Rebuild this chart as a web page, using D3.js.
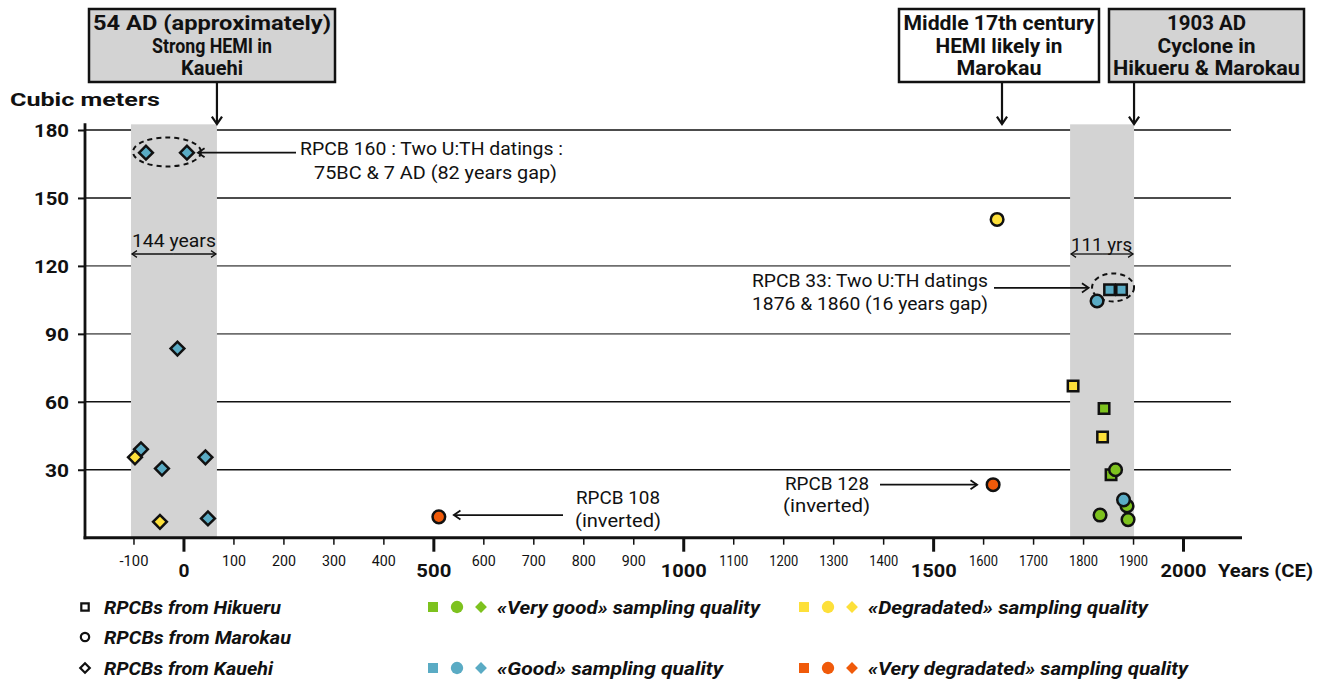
<!DOCTYPE html>
<html><head><meta charset="utf-8">
<script src="https://cdn.jsdelivr.net/npm/d3@7"></script>
<style>
html,body{margin:0;padding:0;background:#fff;}
svg text{font-family:Roboto,"Noto Sans","DejaVu Sans",sans-serif;fill:#111;}
</style></head>
<body><svg id="c" width="1322" height="682"></svg>
<script>
// ---------- DATA ----------
const years   = [-75, 7, -12, -85, -97, -43, 44, -47, 49,
                 511, 1628, 1620, 1828, 1865, 1881, 1888, 1834, 1890,
                 1853, 1877, 1780, 1842, 1839, 1856];
const volumes = [170, 170, 83.5, 39, 35.5, 30.5, 35.5, 7, 8.5,
                 9.2, 140.5, 23.4, 104.5, 30, 16.7, 14, 10, 8,
                 109.5, 109.5, 67, 57, 44.5, 27.8];
const sites   = ["Kauehi","Kauehi","Kauehi","Kauehi","Kauehi","Kauehi","Kauehi","Kauehi","Kauehi",
                 "Marokau","Marokau","Marokau","Marokau","Marokau","Marokau","Marokau","Marokau","Marokau",
                 "Hikueru","Hikueru","Hikueru","Hikueru","Hikueru","Hikueru"];
const quality = ["good","good","good","good","degraded","good","good","degraded","good",
                 "verydegraded","degraded","verydegraded","good","verygood","good","verygood","verygood","verygood",
                 "good","good","degraded","verygood","degraded","verygood"];
const drawOrder = [0,1,2,3,4,5,6,7,8,9,10,11,18,19,20,21,22,23,12,13,15,14,16,17];

const yTicks = [30, 60, 90, 120, 150, 180];
const xMinorTicks = [-100,100,200,300,400,600,700,800,900,1100,1200,1300,1400,1600,1700,1800,1900];
const xMajorTicks = [0, 500, 1000, 1500, 2000];
const bands = [[-105, 67], [1774, 1902]];

const qualityNames = ["verygood","degraded","good","verydegraded"];
const qualityColors = ["#7dc21e","#fde03a","#5aabc4","#f05a0a"];
const qualityLabels = ["«Very good» sampling quality","«Degradated» sampling quality","«Good» sampling quality","«Very degradated» sampling quality"];
const siteNames = ["Hikueru","Marokau","Kauehi"];
const siteLabels = ["RPCBs from Hikueru","RPCBs from Marokau","RPCBs from Kauehi"];

// ---------- helpers ----------
function fit(sel, w) { return sel.attr("textLength", w).attr("lengthAdjust", "spacingAndGlyphs"); }

// ---------- SCALES ----------
const svg = d3.select("#c");
const x = d3.scaleLinear().domain([-197, 2118]).range([85, 1242]);
const y = d3.scaleLinear().domain([0, 180]).range([537.7, 130]);
const color = d3.scaleOrdinal().domain(qualityNames).range(qualityColors);
const shapeOf = {Hikueru: d3.symbolSquare, Marokau: d3.symbolCircle, Kauehi: d3.symbolSquare};

// gridlines
svg.selectAll("line.grid").data(yTicks).join("line")
  .attr("x1", x(-197)).attr("x2", x(2096))
  .attr("y1", d => y(d)).attr("y2", d => y(d))
  .attr("stroke", d => (d===90||d===120) ? "#6f6f6f" : "#111").attr("stroke-width", 1.6);
// bands
svg.selectAll("rect.band").data(bands).join("rect")
  .attr("x", d => x(d[0])).attr("width", d => x(d[1]) - x(d[0]))
  .attr("y", y(182.5)).attr("height", y(0) - y(182.5))
  .attr("fill", "#d3d3d3");

// y axis
const yAxis = d3.axisLeft(y).tickValues(yTicks).tickSize(7).tickPadding(9);
const gy = svg.append("g").attr("transform", `translate(${x(-197)},0)`).call(yAxis);
gy.select(".domain").remove();
gy.selectAll(".tick line").attr("stroke", "#111").attr("stroke-width", 2);
gy.selectAll(".tick text").attr("font-size", 19).attr("font-weight", "bold").attr("font-family", null)
  .attr("dy", "0.36em").each(function(d){ fit(d3.select(this), d >= 100 ? 35 : 24); });
svg.append("line").attr("x1", x(-197)).attr("x2", x(-197)).attr("y1", y(183)).attr("y2", y(0)+1.5)
  .attr("stroke", "#111").attr("stroke-width", 2.8);

// x axis
const fmt = d => String(d);
const gxMinor = svg.append("g").attr("transform", `translate(0,${y(0)})`)
  .call(d3.axisBottom(x).tickValues(xMinorTicks).tickSize(7).tickPadding(0).tickFormat(fmt));
gxMinor.select(".domain").remove();
gxMinor.selectAll(".tick line").attr("stroke", "#111").attr("stroke-width", 1.5);
gxMinor.selectAll(".tick text").attr("font-size", 15).attr("font-family", null).attr("dy", null).attr("y", 28)
  .each(function(d){ fit(d3.select(this), d < 0 ? 29 : (d >= 1000 ? 29 : 24)); });
const gxMajor = svg.append("g").attr("transform", `translate(0,${y(0)})`)
  .call(d3.axisBottom(x).tickValues(xMajorTicks).tickSize(14).tickPadding(0).tickFormat(fmt));
gxMajor.select(".domain").remove();
gxMajor.selectAll(".tick line").attr("stroke", "#111").attr("stroke-width", 3);
gxMajor.selectAll(".tick text").attr("font-size", 19).attr("font-weight", "bold").attr("font-family", null)
  .attr("dy", null).attr("y", 39)
  .each(function(d){ fit(d3.select(this), d === 0 ? 11 : (d >= 1000 ? 46 : 35)); });
svg.append("line").attr("x1", x(-197)-1.4).attr("x2", x(2118)).attr("y1", y(0)).attr("y2", y(0))
  .attr("stroke", "#111").attr("stroke-width", 3);

fit(svg.append("text").attr("x", 10).attr("y", 106).text("Cubic meters")
  .attr("font-size", 19).attr("font-weight", "bold"), 150);
fit(svg.append("text").attr("x", 1218).attr("y", 577).text("Years (CE)")
  .attr("font-size", 19).attr("font-weight", "bold"), 95);

function arrow(g, x1, y1, x2, y2, head, w) {
  const a = Math.atan2(y2 - y1, x2 - x1);
  g.append("line").attr("x1", x1).attr("y1", y1).attr("x2", x2).attr("y2", y2)
    .attr("stroke", "#111").attr("stroke-width", w);
  const p = d3.path();
  p.moveTo(x2 - head * Math.cos(a - 0.6), y2 - head * Math.sin(a - 0.6));
  p.lineTo(x2, y2);
  p.lineTo(x2 - head * Math.cos(a + 0.6), y2 - head * Math.sin(a + 0.6));
  g.append("path").attr("d", p.toString()).attr("fill", "none").attr("stroke", "#111")
    .attr("stroke-width", w).attr("stroke-linejoin", "miter");
}
const ann = svg.append("g");

// ellipses
ann.append("ellipse").attr("cx", x(-33)).attr("cy", y(170.3)).attr("rx", 34).attr("ry", 14.5)
  .attr("fill", "none").attr("stroke", "#111").attr("stroke-width", 2).attr("stroke-dasharray", "5,4");
ann.append("ellipse").attr("cx", x(1860)).attr("cy", y(110.5)).attr("rx", 21).attr("ry", 14)
  .attr("fill", "none").attr("stroke", "#111").attr("stroke-width", 2).attr("stroke-dasharray", "5,4");

// ---------- points ----------
const pts = svg.append("g");
drawOrder.forEach(i => {
  const isDiamond = sites[i] === "Kauehi";
  const size = isDiamond ? 95 : (sites[i] === "Hikueru" ? 110 : 125);
  pts.append("path")
    .attr("d", d3.symbol().type(shapeOf[sites[i]]).size(size)())
    .attr("transform", `translate(${x(years[i])},${y(volumes[i])})` + (isDiamond ? " rotate(45)" : ""))
    .attr("fill", color(quality[i])).attr("stroke", "#111").attr("stroke-width", 2.5);
});

// ---------- annotations ----------
function annLine(tx, ty, txt, w, anchor) {
  fit(ann.append("text").attr("x", tx).attr("y", ty).attr("text-anchor", anchor || "start")
    .attr("font-size", 19).text(txt), w);
}
annLine(300, 155, "RPCB 160 : Two U:TH datings :", 263);
annLine(314, 179, "75BC & 7 AD (82 years gap)", 243);
arrow(ann, 296, y(170), x(7) + 11, y(170), 8, 1.8);

annLine(752, 287, "RPCB 33: Two U:TH datings", 236);
annLine(752, 310, "1876 & 1860 (16 years gap)", 236);
arrow(ann, 994, y(110.3), x(1853) - 21, y(110.3), 8, 1.8);

annLine(576, 504, "RPCB 108", 84);
annLine(575, 527, "(inverted)", 86);
arrow(ann, 563, y(10), x(511) + 15, y(10), 8, 1.8);

annLine(785, 490, "RPCB 128", 84);
annLine(783, 512, "(inverted)", 87);
arrow(ann, 880, y(23.4), x(1620) - 16, y(23.4), 8, 1.8);

// dimension arrows
function dblArrow(x1, x2, yy) {
  arrow(ann, (x1 + x2) / 2, yy, x1 + 1, yy, 6, 1.3);
  arrow(ann, (x1 + x2) / 2, yy, x2 - 1, yy, 6, 1.3);
}
dblArrow(x(bands[0][0]), x(bands[0][1]), 254);
annLine(x(bands[0][0]) + 1, 247, "144 years", 84);
dblArrow(x(bands[1][0]), x(bands[1][1]), 254);
annLine(x(bands[1][0]) + 1, 251, "111 yrs", 61);

// ---------- event boxes ----------
const boxes = [
  {x0: 89, x1: 335, fill: "#d3d3d3", lines: ["54 AD (approximately)", "Strong HEMI in", "Kauehi"], w: [238, 120, 62], ax: x(bands[0][1])},
  {x0: 899, x1: 1099, fill: "#ffffff", lines: ["Middle 17th century", "HEMI likely in", "Marokau"], w: [191, 127, 85], ax: 1002},
  {x0: 1109, x1: 1304, fill: "#d3d3d3", lines: ["1903 AD", "Cyclone in", "Hikueru & Marokau"], w: [79, 98, 187], ax: x(bands[1][1])}
];
boxes.forEach(b => {
  svg.append("rect").attr("x", b.x0).attr("y", 9).attr("width", b.x1 - b.x0).attr("height", 73)
    .attr("fill", b.fill).attr("stroke", "#111").attr("stroke-width", 2.5);
  b.lines.forEach((l, k) => fit(svg.append("text").attr("text-anchor", "middle").attr("font-size", 20)
    .attr("font-weight", "bold").attr("x", (b.x0 + b.x1) / 2).attr("y", 30 + k * 22.5).text(l), b.w[k]));
  arrow(svg, b.ax, 82, b.ax, 124, 9, 2.2);
});

// ---------- legend ----------
const leg = svg.append("g");
const rowsY = [607, 637, 668];
const siteW = [177, 187, 169];
siteNames.forEach((s, k) => {
  const isD = s === "Kauehi";
  leg.append("path").attr("d", d3.symbol().type(shapeOf[s]).size(isD ? 45 : 55)())
    .attr("transform", `translate(85,${rowsY[k]})` + (isD ? " rotate(45)" : ""))
    .attr("fill", "#fff").attr("stroke", "#111").attr("stroke-width", 2.2);
  fit(leg.append("text").attr("x", 104).attr("y", rowsY[k] + 7).text(siteLabels[k])
    .attr("font-size", 19).attr("font-weight", "bold").attr("font-style", "italic"), siteW[k]);
});
const legPos = [[433, 607], [804, 607], [433, 668], [804, 668]];
const qualW = [263, 280, 226, 320];
qualityNames.forEach((q, k) => {
  const [lx, ly] = legPos[k];
  [d3.symbolSquare, d3.symbolCircle, d3.symbolSquare].forEach((sh, j) => {
    leg.append("path").attr("d", d3.symbol().type(sh).size(j === 1 ? 120 : (j === 2 ? 70 : 100))())
      .attr("transform", `translate(${lx + j * 24},${ly})` + (j === 2 ? " rotate(45)" : ""))
      .attr("fill", qualityColors[k]);
  });
  fit(leg.append("text").attr("x", lx + 64).attr("y", ly + 7).text(qualityLabels[k])
    .attr("font-size", 19).attr("font-weight", "bold").attr("font-style", "italic"), qualW[k]);
});
</script></body></html>
